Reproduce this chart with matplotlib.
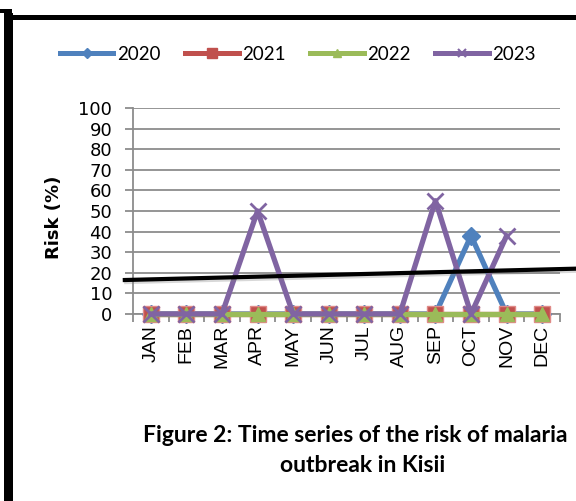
import numpy as np
import matplotlib
matplotlib.use("Agg")
import matplotlib.pyplot as plt
import matplotlib.patheffects as pe
from matplotlib.lines import Line2D
from matplotlib.patches import Rectangle
from matplotlib.ticker import MultipleLocator, FixedLocator

months = ["JAN", "FEB", "MAR", "APR", "MAY", "JUN",
          "JUL", "AUG", "SEP", "OCT", "NOV", "DEC"]
risk_2020 = [0, 0, 0, 0, 0, 0, 0, 0, 0, 38, 0, 0]
risk_2021 = [0, 0, 0, 0, 0, 0, 0, 0, 0, 0, 0, 0]
risk_2022 = [0, 0, 0, 0, 0, 0, 0, 0, 0, 0, 0, 0]
risk_2023 = [0, 0, 0, 50, 0, 0, 0, 0, 55, 0, 38, np.nan]
# hand-drawn trend line (month index, risk %)
trend_x = [-0.73, 11.94]
trend_y = [16.5, 22.0]

W, H = 576, 501
fig = plt.figure(figsize=(W / 100, H / 100), dpi=100)
ax = fig.add_axes([133 / W, 1 - 314 / H, 427 / W, 206 / H])

x = np.arange(len(months))
blue, red, green, purple = "#4F81BD", "#C0504D", "#9BBB59", "#8064A2"

ax.plot(x, risk_2020, color=blue, lw=3.8, marker="D", ms=9, zorder=3, clip_on=False)
ax.plot(x, risk_2021, color=red, lw=3.8, marker="s", ms=11,
        mec="#E08A88", mew=1, zorder=4, clip_on=False)
ax.plot(x, risk_2022, color=green, lw=3.8, marker="^", ms=10.5, zorder=5, clip_on=False)
ax.plot(x, risk_2023, color=purple, lw=3.8, marker="x", ms=11, mew=2, zorder=6,
        clip_on=False)

ax.plot(trend_x, trend_y, color="black", lw=3, clip_on=False, zorder=7,
        path_effects=[pe.SimpleLineShadow(offset=(1, -1.5), shadow_color="gray", alpha=0.3),
                      pe.Normal()])

ax.set_xlim(-0.5, 11.5)
ax.set_ylim(0, 100)
ax.yaxis.set_major_locator(MultipleLocator(10))
ax.grid(axis="y", color="#8C8C8C", lw=1.3)
ax.set_axisbelow(True)
for s in ["top", "right"]:
    ax.spines[s].set_visible(False)
for s in ["left", "bottom"]:
    ax.spines[s].set_color("#8C8C8C")
    ax.spines[s].set_linewidth(1.3)

ax.set_xticks(x)
ax.set_xticklabels(months, rotation=90, fontfamily="Liberation Sans", fontsize=14)
ax.xaxis.set_minor_locator(FixedLocator(np.arange(-0.5, 12, 1)))
ax.tick_params(axis="x", which="major", length=0, pad=8)
ax.tick_params(axis="x", which="minor", length=6, color="#8C8C8C", width=1.3)
ax.tick_params(axis="y", length=6, color="#8C8C8C", width=1.3, pad=9)
for lab in ax.get_yticklabels():
    lab.set_fontfamily("DejaVu Sans")
    lab.set_fontsize(13)

ax.set_ylabel("Risk (%)", fontfamily="DejaVu Sans", fontweight="bold", fontsize=13)
ax.yaxis.set_label_coords((63 - 133) / 427, (314 - 217) / 206)

handles = [
    Line2D([], [], color=blue, lw=3.6, marker="D", ms=5),
    Line2D([], [], color=red, lw=3.6, marker="s", ms=7),
    Line2D([], [], color=green, lw=3.6, marker="^", ms=6),
    Line2D([], [], color=purple, lw=3.6, marker="x", ms=6, mew=1.5),
]
fig.legend(handles, ["2020", "2021", "2022", "2023"], ncol=4, frameon=False,
           loc="center", bbox_to_anchor=(298 / W, 1 - 54 / H),
           prop={"family": "Lato", "size": 13.5},
           handlelength=2.85, handletextpad=0.2, columnspacing=1.3)

fig.text(143 / W, 1 - 436 / H, "Figure 2: Time series of the risk of malaria",
         ha="left", va="center", fontfamily="Lato", fontweight="bold", fontsize=16.5)
fig.text(363 / W, 1 - 465 / H, "outbreak in Kisii",
         ha="center", va="center", fontfamily="Lato", fontweight="bold", fontsize=16.5)

# document frame around the chart
fig.add_artist(Rectangle((4 / W, 0), 9 / W, 1 - 13 / H, transform=fig.transFigure,
                         color="black", lw=0))
fig.add_artist(Rectangle((12 / W, 1 - 20 / H), 1, 5 / H, transform=fig.transFigure,
                         color="black", lw=0))
fig.add_artist(Rectangle((0, 1 - 13 / H), 12 / W, 4 / H, transform=fig.transFigure,
                         color="black", lw=0))

fig.savefig("out.png", dpi=100)
